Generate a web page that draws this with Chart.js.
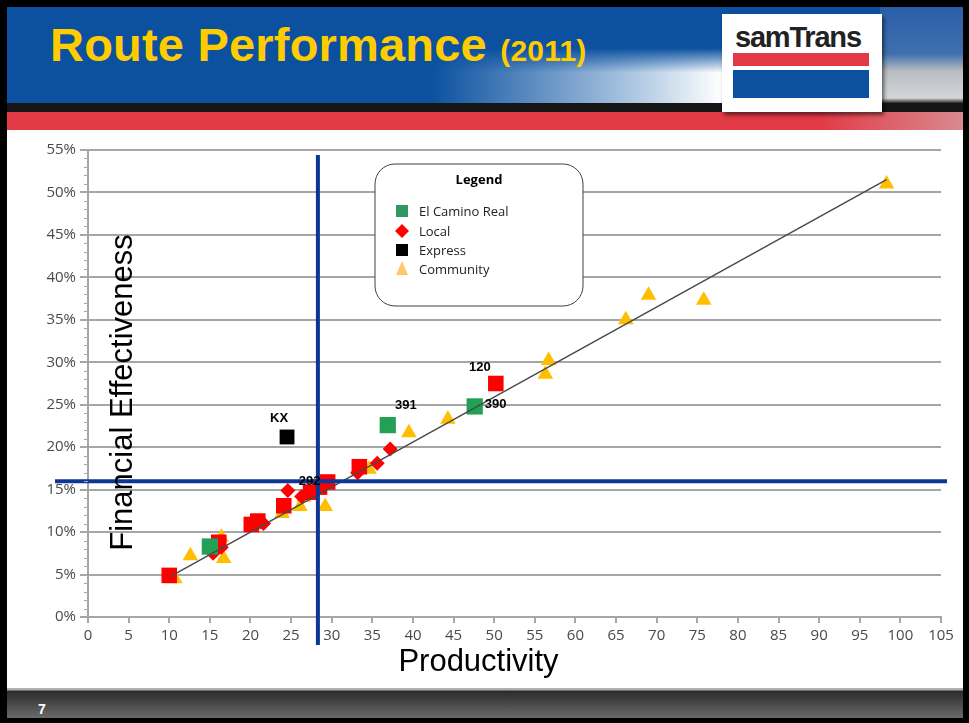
<!DOCTYPE html>
<html>
<head>
<meta charset="utf-8">
<script src="https://cdn.jsdelivr.net/npm/chart.js@4/dist/chart.umd.min.js"></script>
<style>
  body { margin: 0; background: #000; }
  #slide { position: relative; width: 969px; height: 723px; background: #000; overflow: hidden; font-family: "Liberation Sans", Arial, sans-serif; }
  .abs { position: absolute; }
  #header { left: 7px; top: 7px; width: 956px; height: 96px; background: #0b51a0; }
  #glare { left: 430px; top: 48px; width: 470px; height: 55px;
    background: linear-gradient(to right, rgba(255,255,255,0) 0%, rgba(210,225,240,0.85) 45%, #ffffff 62%, #e4e8ec 78%, #c9cdd2 100%);
    -webkit-mask-image: linear-gradient(to bottom, transparent 0%, #000 45%); }
  #texture { left: 880px; top: 7px; width: 83px; height: 123px;
    background: linear-gradient(to bottom, #2a5fa8 0%, #3f6fae 38%, #b8bcc2 52%, #d4d6d8 74%, #2a2a2a 78%, #2a2a2a 84%, #e0555d 86%, #c9a0a4 100%); }
  #blackbar { left: 7px; top: 103px; width: 956px; height: 9px; background: #151515; }
  #redbar { left: 7px; top: 112px; width: 956px; height: 18px; background: linear-gradient(to right, #e23a46 0%, #e23a46 85%, #d98a90 100%); }
  #body { left: 7px; top: 130px; width: 956px; height: 558px; background: #fff; }
  #footer { left: 7px; top: 688px; width: 956px; height: 30px; background: linear-gradient(to bottom, #b0b0b0 0px, #b0b0b0 2px, #2b2b2b 3px, #6a6a6a 100%); }
  #pagenum { left: 38px; top: 701px; color: #fff; font-weight: bold; font-size: 14px; }
  #title { left: 50px; top: 17px; color: #ffcc00; font-weight: bold; font-size: 47px; white-space: nowrap; letter-spacing: 0.2px; }
  #title span { font-size: 30px; }
  #logo { left: 722px; top: 14px; width: 160px; height: 98px; background: #fff; box-shadow: 2px 3px 4px rgba(0,0,0,0.55); }
  #logotext { left: 13px; top: 7px; font-weight: bold; font-size: 29px; color: #222; letter-spacing: -1.2px; }
  #logored { left: 11px; top: 39px; width: 136px; height: 13px; background: #e23a46; }
  #logoblue { left: 11px; top: 56px; width: 136px; height: 28px; background: #0b51a0; }
  #chart { left: 7px; top: 131px; }
</style>
</head>
<body>
<div id="slide">
  <div id="header" class="abs"></div>
  <div id="glare" class="abs"></div>
  <div id="texture" class="abs"></div>
  <div id="blackbar" class="abs"></div>
  <div id="redbar" class="abs"></div>
  <div id="body" class="abs"></div>
  <div id="footer" class="abs"></div>
  <div id="pagenum" class="abs">7</div>
  <div id="title" class="abs">Route Performance <span>(2011)</span></div>
  <div id="logo" class="abs">
    <div id="logotext" class="abs">samTrans</div>
    <div id="logored" class="abs"></div>
    <div id="logoblue" class="abs"></div>
  </div>
  <canvas id="chart" class="abs" width="956" height="557"></canvas>
</div>
<script>
// productivity (x) vs financial effectiveness (y, %)
const ecrX = [15.0, 36.9, 47.6];
const ecrY = [8.3, 22.6, 24.8];
const ecrRoutes = ["", "391", "390"];

const expressX = [24.5];
const expressY = [21.2];
const expressRoutes = ["KX"];

// local routes drawn as squares
const localSqX = [10.0, 50.2, 33.4, 29.5, 28.5, 27.4, 24.1, 20.9, 20.1, 16.1];
const localSqY = [4.9, 27.5, 17.7, 15.9, 15.3, 14.7, 13.1, 11.3, 10.9, 8.8];
const localSqRoutes = ["", "120", "", "292", "", "", "", "", "", ""];

// local routes drawn as diamonds
const localDmX = [15.4, 16.4, 21.6, 24.6, 26.3, 33.2, 35.6, 37.2];
const localDmY = [7.5, 8.2, 11.0, 14.9, 14.2, 17.0, 18.1, 19.8];

const communityX = [10.7, 12.6, 16.7, 16.4, 23.9, 26.1, 26.6, 29.2, 34.6, 39.5, 44.3, 56.3, 56.7, 66.2, 69.0, 75.8, 98.3];
const communityY = [4.5, 7.2, 6.9, 9.4, 12.2, 13.0, 14.1, 13.0, 17.4, 21.7, 23.3, 28.6, 30.2, 35.0, 37.9, 37.3, 51.0];

const trendX = [10, 98.3];
const trendY = [4.7, 51.5];

const productivityTarget = 28.3;
const effectivenessTarget = 16;

const xTicks = { min: 0, max: 105, step: 5 };
const yTicks = { min: 0, max: 55, step: 5 };

const legendItems = ["El Camino Real", "Local", "Express", "Community"];

const pts = (xs, ys) => xs.map((x, i) => ({ x: x, y: ys[i] }));

const RED = "#ff0000";
const GREEN = "#22a055";
const GOLD = "#ffbf00";
const BLUE = "#0d3796";

// blue target lines, drawn over the markers
const targetLines = {
  id: "targetLines",
  afterDatasetsDraw(chart) {
    const { ctx, scales } = chart;
    const px = scales.x.getPixelForValue(productivityTarget);
    const py = scales.y.getPixelForValue(effectivenessTarget);
    ctx.save();
    ctx.strokeStyle = BLUE;
    ctx.lineWidth = 4;
    ctx.beginPath();
    ctx.moveTo(px, chart.chartArea.top + 5);
    ctx.lineTo(px, chart.chartArea.bottom + 28);
    ctx.moveTo(chart.chartArea.left - 33, py);
    ctx.lineTo(chart.chartArea.right + 6, py);
    ctx.stroke();
    ctx.restore();
  },
};

// route numbers next to some markers
const routeLabels = {
  id: "routeLabels",
  afterDatasetsDraw(chart) {
    const { ctx } = chart;
    const offsets = { KX: [-8, -19], "391": [18, -20], "390": [21, -2], "120": [-16, -16], "292": [-18, -1] };
    ctx.save();
    ctx.font = "bold 13px 'Liberation Sans', Arial";
    ctx.fillStyle = "#000";
    ctx.textAlign = "center";
    ctx.textBaseline = "middle";
    chart.data.datasets.forEach((ds, di) => {
      if (!ds.routes) return;
      const meta = chart.getDatasetMeta(di);
      ds.routes.forEach((name, i) => {
        if (!name) return;
        const el = meta.data[i];
        const o = offsets[name] || [0, -14];
        ctx.fillText(name, el.x + o[0], el.y + o[1]);
      });
    });
    ctx.restore();
  },
};

// minor ticks, axis titles and the legend box
const decorations = {
  id: "decorations",
  afterDraw(chart) {
    const { ctx, scales, chartArea } = chart;
    ctx.save();
    ctx.strokeStyle = "#a6a6a6";
    ctx.lineWidth = 1;
    for (let v = yTicks.min; v <= yTicks.max; v += 1) {
      if (v % yTicks.step === 0) continue;
      const y = Math.round(scales.y.getPixelForValue(v)) + 0.5;
      ctx.beginPath();
      ctx.moveTo(chartArea.left - 4, y);
      ctx.lineTo(chartArea.left, y);
      ctx.stroke();
    }

    ctx.fillStyle = "#000";
    ctx.font = "31px 'Liberation Sans', Arial";
    ctx.textAlign = "center";
    ctx.textBaseline = "middle";
    ctx.fillText("Productivity", (chartArea.left + chartArea.right) / 2 - 36, chartArea.bottom + 45);
    ctx.save();
    ctx.translate(chartArea.left + 35, (chartArea.top + chartArea.bottom) / 2 + 9);
    ctx.rotate(-Math.PI / 2);
    ctx.fillText("Financial Effectiveness", 0, 0);
    ctx.restore();

    // legend box
    const bx = 368, by = 33, bw = 208, bh = 142, r = 20;
    ctx.beginPath();
    ctx.roundRect(bx, by, bw, bh, r);
    ctx.fillStyle = "#fff";
    ctx.fill();
    ctx.strokeStyle = "#404040";
    ctx.lineWidth = 1;
    ctx.stroke();

    ctx.fillStyle = "#000";
    ctx.font = "bold 13px 'Open Sans', 'Liberation Sans', Arial";
    ctx.fillText("Legend", bx + bw / 2, by + 16);

    const rowY = [80, 100, 119, 138];
    const mx = 395;
    ctx.textAlign = "left";
    ctx.font = "13px 'Open Sans', 'Liberation Sans', Arial";
    legendItems.forEach((label, i) => {
      const y = rowY[i];
      ctx.beginPath();
      if (i === 0) {
        ctx.fillStyle = "#2e9a62";
        ctx.rect(mx - 6, y - 6, 12, 12);
      } else if (i === 1) {
        ctx.fillStyle = RED;
        ctx.moveTo(mx, y - 7); ctx.lineTo(mx + 7, y); ctx.lineTo(mx, y + 7); ctx.lineTo(mx - 7, y);
        ctx.closePath();
      } else if (i === 2) {
        ctx.fillStyle = "#000";
        ctx.rect(mx - 6, y - 6, 12, 12);
      } else {
        ctx.fillStyle = "#ffc96b";
        ctx.moveTo(mx, y - 8); ctx.lineTo(mx + 6, y + 6); ctx.lineTo(mx - 6, y + 6);
        ctx.closePath();
      }
      ctx.fill();
      ctx.fillStyle = "#222";
      ctx.fillText(label, 412, y + 1);
    });
    ctx.restore();
  },
};

new Chart(document.getElementById("chart"), {
  type: "scatter",
  data: {
    datasets: [
      {
        label: "Trend",
        type: "line",
        data: pts(trendX, trendY),
        borderColor: "#4a4a4a",
        borderWidth: 1.5,
        pointRadius: 0,
        fill: false,
        order: 0,
      },
      {
        label: "El Camino Real",
        data: pts(ecrX, ecrY),
        routes: ecrRoutes,
        pointStyle: "rect",
        pointRadius: 11.5,
        backgroundColor: GREEN,
        borderWidth: 0,
        order: 1,
      },
      {
        label: "Express",
        data: pts(expressX, expressY),
        routes: expressRoutes,
        pointStyle: "rect",
        pointRadius: 10.5,
        backgroundColor: "#000",
        borderWidth: 0,
        order: 2,
      },
      {
        label: "Local",
        data: pts(localSqX, localSqY),
        routes: localSqRoutes,
        pointStyle: "rect",
        pointRadius: 11,
        backgroundColor: RED,
        borderWidth: 0,
        order: 3,
      },
      {
        label: "Local",
        data: pts(localDmX, localDmY),
        pointStyle: "rectRot",
        pointRadius: 7.5,
        backgroundColor: RED,
        borderWidth: 0,
        order: 4,
      },
      {
        label: "Community",
        data: pts(communityX, communityY),
        pointStyle: "triangle",
        pointRadius: 9,
        backgroundColor: GOLD,
        borderWidth: 0,
        order: 5,
      },
    ],
  },
  options: {
    responsive: false,
    animation: false,
    layout: { padding: { left: 0, right: 22, top: 19, bottom: 0 } },
    plugins: {
      legend: { display: false },
      tooltip: { enabled: false },
    },
    scales: {
      x: {
        type: "linear",
        min: xTicks.min,
        max: xTicks.max,
        afterFit: (scale) => { scale.height = 71; },
        ticks: {
          stepSize: xTicks.step,
          color: "#4a4a4a",
          padding: 4,
          font: { family: "'Open Sans', 'Liberation Sans', Arial", size: 15 },
        },
        grid: { drawOnChartArea: false, tickLength: 6, color: "#a6a6a6", lineWidth: 2 },
        border: { color: "#a6a6a6", width: 2 },
      },
      y: {
        min: yTicks.min,
        max: yTicks.max,
        afterFit: (scale) => { scale.width = 81; },
        ticks: {
          stepSize: yTicks.step,
          color: "#4a4a4a",
          padding: 4,
          font: { family: "'Open Sans', 'Liberation Sans', Arial", size: 15 },
          callback: (v) => v + "%",
        },
        grid: { color: "#a6a6a6", lineWidth: 2, tickLength: 8 },
        border: { color: "#a6a6a6", width: 2 },
      },
    },
  },
  plugins: [targetLines, routeLabels, decorations],
});
</script>
</body>
</html>
